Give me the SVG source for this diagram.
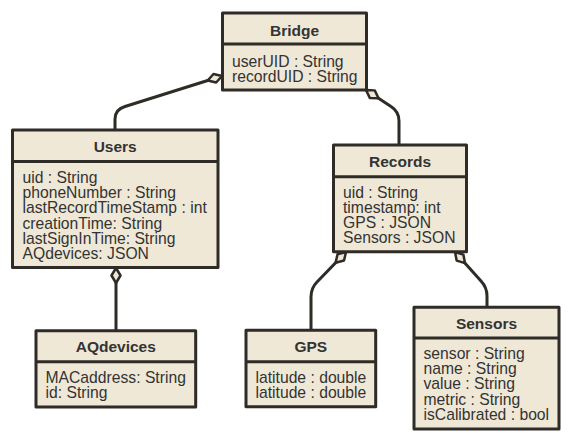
<svg xmlns="http://www.w3.org/2000/svg" width="572" height="442" viewBox="0 0 572 442">
<style>
.box{fill:#EFE8D6;stroke:#2F2B27;stroke-width:3;stroke-linejoin:round}
.div{stroke:#2F2B27;stroke-width:3}
.t{font-family:"Liberation Sans",Arial,sans-serif;font-size:15.5px;font-weight:bold;fill:#333;text-anchor:middle}
.a{font-family:"Liberation Sans",Arial,sans-serif;font-size:15.7px;fill:#333}
.c{fill:none;stroke:#2F2B27;stroke-width:3;stroke-linejoin:round}
</style>
<defs>
<marker id="dia" markerUnits="userSpaceOnUse" markerWidth="20" markerHeight="14" viewBox="-2 -7 20 14" refX="0" refY="0" orient="auto" overflow="visible">
<path d="M0,0 L7.5,-4.5 L15,0 L7.5,4.5 Z" fill="#EFE8D6" stroke="#2F2B27" stroke-width="2.5" stroke-linejoin="round"/>
</marker>
</defs>
<rect width="572" height="442" fill="#fff"/>
<g id="connectors">
<path class="c" d="M222,76 L125,106.5 Q115,109.5 115,119 L115,130" marker-start="url(#dia)"/>
<path class="c" d="M366,90 L391,106.5 Q399,111.5 399,121 L399,145" marker-start="url(#dia)"/>
<path class="c" d="M346,252 L317,282 Q311,288 311,297 L311,330" marker-start="url(#dia)"/>
<path class="c" d="M455,252 L481,281 Q487,287.5 487,296 L487,307" marker-start="url(#dia)"/>
<path class="c" d="M116,268 L116,331" marker-start="url(#dia)"/>
</g>
<g id="bridge">
<rect class="box" x="222.5" y="13" width="144" height="77"/>
<line class="div" x1="222.5" y1="44" x2="366.5" y2="44"/>
<text class="t" x="294.5" y="35.5">Bridge</text>
<text class="a" x="232" y="66.5">userUID : String</text>
<text class="a" x="232" y="81.5">recordUID : String</text>
</g>
<g id="users">
<rect class="box" x="12.5" y="130" width="205.5" height="137.5"/>
<line class="div" x1="12.5" y1="161.5" x2="218" y2="161.5"/>
<text class="t" x="115.2" y="152">Users</text>
<text class="a" x="22.5" y="183">uid : String</text>
<text class="a" x="22.5" y="198.2">phoneNumber : String</text>
<text class="a" x="22.5" y="213.4">lastRecordTimeStamp : int</text>
<text class="a" x="22.5" y="228.6">creationTime: String</text>
<text class="a" x="22.5" y="243.8">lastSignInTime: String</text>
<text class="a" x="22.5" y="259">AQdevices: JSON</text>
</g>
<g id="records">
<rect class="box" x="333.5" y="145" width="133" height="106.7"/>
<line class="div" x1="333.5" y1="176.7" x2="466.5" y2="176.7"/>
<text class="t" x="400" y="167">Records</text>
<text class="a" x="343" y="197.7">uid : String</text>
<text class="a" x="343" y="212.9">timestamp: int</text>
<text class="a" x="343" y="228.1">GPS : JSON</text>
<text class="a" x="343" y="243.3">Sensors : JSON</text>
</g>
<g id="aqdevices">
<rect class="box" x="36" y="330.7" width="159.7" height="76.3"/>
<line class="div" x1="36" y1="361.7" x2="195.7" y2="361.7"/>
<text class="t" x="115.8" y="352.2">AQdevices</text>
<text class="a" x="45.5" y="382.7">MACaddress: String</text>
<text class="a" x="45.5" y="397.9">id: String</text>
</g>
<g id="gps">
<rect class="box" x="246" y="330.3" width="129.7" height="76.4"/>
<line class="div" x1="246" y1="361.7" x2="375.7" y2="361.7"/>
<text class="t" x="310.8" y="352.2">GPS</text>
<text class="a" x="255.5" y="382.7">latitude : double</text>
<text class="a" x="255.5" y="397.9">latitude : double</text>
</g>
<g id="sensors">
<rect class="box" x="414" y="307.3" width="145" height="121.7"/>
<line class="div" x1="414" y1="338" x2="559" y2="338"/>
<text class="t" x="486.5" y="328.5">Sensors</text>
<text class="a" x="423.5" y="359">sensor : String</text>
<text class="a" x="423.5" y="374.2">name : String</text>
<text class="a" x="423.5" y="389.4">value : String</text>
<text class="a" x="423.5" y="404.6">metric : String</text>
<text class="a" x="423.5" y="419.8">isCalibrated : bool</text>
</g>
</svg>
